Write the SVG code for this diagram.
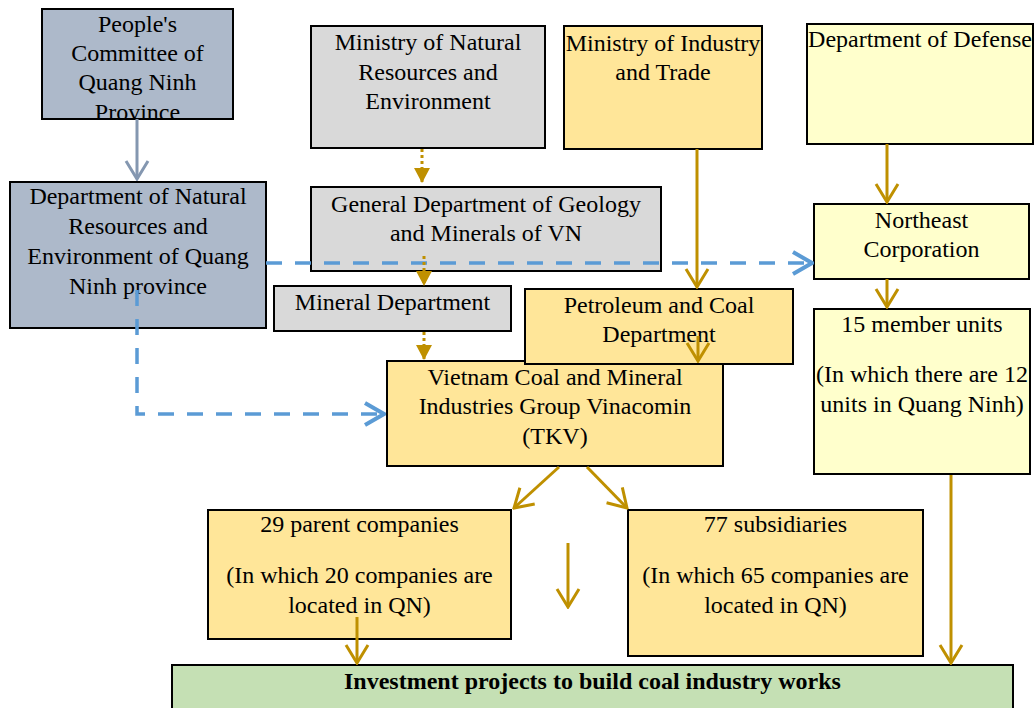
<svg xmlns="http://www.w3.org/2000/svg" width="1036" height="708" viewBox="0 0 1036 708">
<style>
.box{stroke:#000;stroke-width:2}
.blue{fill:#adb9ca}
.gray{fill:#d9d9d9}
.gold{fill:#ffe699}
.ly{fill:#ffffcc}
.green{fill:#c5e0b4}
text{font-family:"Liberation Serif","Times New Roman",serif;font-size:24px;fill:#000;text-anchor:middle}
.b{font-weight:bold}
.sg{fill:none;stroke:#bf9000;stroke-width:3}
.dg{fill:none;stroke:#bf9000;stroke-width:3;stroke-dasharray:3 3}
.db{fill:none;stroke:#5b9bd5;stroke-width:3.5;stroke-dasharray:16 13}
.sb{fill:none;stroke:#8497b0;stroke-width:3}
</style>
<defs>
<marker id="ag" viewBox="-20 -13 22 26" refX="0" refY="0" markerWidth="22" markerHeight="26" markerUnits="userSpaceOnUse" orient="auto"><path d="M-18,-11 L0,0 L-18,11" fill="none" stroke="#bf9000" stroke-width="3"/></marker>
<marker id="at" viewBox="-16 -9 17 18" refX="0" refY="0" markerWidth="17" markerHeight="18" markerUnits="userSpaceOnUse" orient="auto"><path d="M-15,-8 L0,0 L-15,8 Z" fill="#bf9000"/></marker>
<marker id="ab" viewBox="-22 -13 24 26" refX="0" refY="0" markerWidth="24" markerHeight="26" markerUnits="userSpaceOnUse" orient="auto"><path d="M-19,-11 L0,0 L-19,11" fill="none" stroke="#5b9bd5" stroke-width="4"/></marker>
<marker id="as" viewBox="-20 -13 22 26" refX="0" refY="0" markerWidth="22" markerHeight="26" markerUnits="userSpaceOnUse" orient="auto"><path d="M-18,-11 L0,0 L-18,11" fill="none" stroke="#8497b0" stroke-width="3"/></marker>
<clipPath id="c1"><rect x="42" y="9" width="191" height="110"/></clipPath>
</defs>
<rect width="1036" height="708" fill="#fff"/>

<g id="n-peoples">
<rect class="box blue" x="42" y="9" width="191" height="110"/>
<g clip-path="url(#c1)">
<text x="137.5" y="32">People's</text>
<text x="137.5" y="61">Committee of</text>
<text x="137.5" y="90">Quang Ninh</text>
<text x="137.5" y="120">Province</text>
</g>
</g>

<g id="n-ministry-nre">
<rect class="box gray" x="311" y="26" width="234" height="122"/>
<text x="428" y="50">Ministry of Natural</text>
<text x="428" y="79.5">Resources and</text>
<text x="428" y="109">Environment</text>
</g>

<g id="n-ministry-it">
<rect class="box gold" x="564" y="26" width="198" height="123"/>
<text x="663" y="51">Ministry of Industry</text>
<text x="663" y="80">and Trade</text>
</g>

<g id="n-defense">
<rect class="box ly" x="807" y="24" width="226" height="120"/>
<text x="920" y="47">Department of Defense</text>
</g>

<g id="n-dnre-qn">
<rect class="box blue" x="10" y="182" width="256" height="146"/>
<text x="138" y="204">Department of Natural</text>
<text x="138" y="234">Resources and</text>
<text x="138" y="264">Environment of Quang</text>
<text x="138" y="294">Ninh province</text>
</g>

<g id="n-general">
<rect class="box gray" x="311" y="187" width="350" height="84"/>
<text x="486" y="212">General Department of Geology</text>
<text x="486" y="241">and Minerals of VN</text>
</g>

<g id="n-northeast">
<rect class="box ly" x="814" y="204" width="215" height="75"/>
<text x="921.5" y="228">Northeast</text>
<text x="921.5" y="257">Corporation</text>
</g>

<g id="n-mineral">
<rect class="box gray" x="274" y="286" width="237" height="45"/>
<text x="392.5" y="310">Mineral Department</text>
</g>

<g id="n-vinacomin">
<rect class="box gold" x="387" y="361" width="336" height="105"/>
<text x="555" y="385">Vietnam Coal and Mineral</text>
<text x="555" y="414">Industries Group Vinacomin</text>
<text x="555" y="444">(TKV)</text>
</g>

<g id="n-petroleum">
<rect class="box gold" x="525" y="289" width="268" height="75"/>
<text x="659" y="313">Petroleum and Coal</text>
<text x="659" y="342">Department</text>
</g>

<g id="n-members">
<rect class="box ly" x="814" y="309" width="216" height="165"/>
<text x="922" y="332">15 member units</text>
<text x="922" y="382">(In which there are 12</text>
<text x="922" y="412">units in Quang Ninh)</text>
</g>

<g id="n-parent">
<rect class="box gold" x="208" y="510" width="303" height="129"/>
<text x="359.5" y="532">29 parent companies</text>
<text x="359.5" y="583">(In which 20 companies are</text>
<text x="359.5" y="613">located in QN)</text>
</g>

<g id="n-subsidiaries">
<rect class="box gold" x="628" y="510" width="295" height="146"/>
<text x="775.5" y="532">77 subsidiaries</text>
<text x="775.5" y="583">(In which 65 companies are</text>
<text x="775.5" y="613">located in QN)</text>
</g>

<g id="n-investment">
<rect class="box green" x="172" y="665" width="841" height="60"/>
<text class="b" x="592.5" y="689">Investment projects to build coal industry works</text>
</g>

<g id="connectors">
<path class="sb" d="M137,119 L137,179" marker-end="url(#as)"/>
<path class="dg" d="M422,149 L422,183" marker-end="url(#at)"/>
<path class="db" d="M266,263 L812,263" marker-end="url(#ab)"/>
<path class="db" d="M137,290 L137,414 L384,414" marker-end="url(#ab)"/>
<path class="dg" d="M424,256 L424,286" marker-end="url(#at)"/>
<path class="dg" d="M424,332 L424,360" marker-end="url(#at)"/>
<path class="sg" d="M697,149 L697,287" marker-end="url(#ag)"/>
<path class="sg" d="M698,336 L698,361" marker-end="url(#ag)"/>
<path class="sg" d="M887,144 L887,202" marker-end="url(#ag)"/>
<path class="sg" d="M887,279 L887,307" marker-end="url(#ag)"/>
<path class="sg" d="M559,467 L514,508" marker-end="url(#ag)"/>
<path class="sg" d="M587,467 L627,508" marker-end="url(#ag)"/>
<path class="sg" d="M568,543 L568,607" marker-end="url(#ag)"/>
<path class="sg" d="M357,617 L357,663" marker-end="url(#ag)"/>
<path class="sg" d="M951,475 L951,663" marker-end="url(#ag)"/>
</g>
</svg>
